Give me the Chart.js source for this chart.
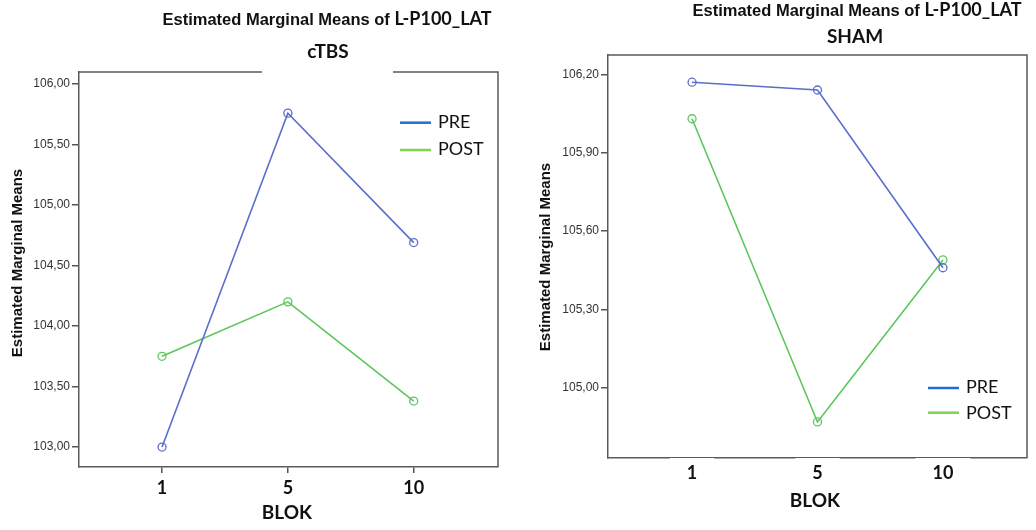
<!DOCTYPE html>
<html>
<head>
<meta charset="utf-8">
<script src="https://cdn.jsdelivr.net/npm/chart.js@4.4.1/dist/chart.umd.min.js"></script>
<style>
  html, body { margin: 0; padding: 0; background: #fff; }
  #wrap { position: relative; width: 1036px; height: 530px; overflow: hidden; background: #fff; }
  .panel { position: absolute; top: 0; width: 518px; height: 530px; }
</style>
</head>
<body>
<div id="wrap">
  <div class="panel" style="left:0"><canvas id="c1" width="518" height="530"></canvas></div>
  <div class="panel" style="left:518px"><canvas id="c2" width="518" height="530"></canvas></div>
</div>
<script>
// ---- data ----
const blokLabels = ['1', '5', '10'];
const seriesNames = ['PRE', 'POST'];
const ctbsPre  = [103.00, 105.76, 104.69];
const ctbsPost = [103.75, 104.20, 103.38];
const shamPre  = [106.17, 106.14, 105.46];
const shamPost = [106.03, 104.87, 105.49];
const ctbsYTicks = [103.0, 103.5, 104.0, 104.5, 105.0, 105.5, 106.0];
const shamYTicks = [105.0, 105.3, 105.6, 105.9, 106.2];
const mainTitleA = 'Estimated Marginal Means of ';
const mainTitleB = 'L-P100_LAT';
const yTitle = 'Estimated Marginal Means';
const xTitle = 'BLOK';

const lineColors = ['#5a6fcb', '#5cc65c'];
const legendColors = ['#1f6fd1', '#80d352'];

function fmt(v) { return v.toFixed(2).replace('.', ','); }

function decor(cfg) {
  return {
    id: 'decor',
    afterDraw(chart) {
      const ctx = chart.ctx, a = chart.chartArea;
      ctx.save();
      // top and right frame
      ctx.strokeStyle = '#5a5a5a';
      ctx.lineWidth = 1.5;
      ctx.beginPath();
      ctx.moveTo(a.left, a.top);
      ctx.lineTo(a.right, a.top);
      ctx.lineTo(a.right, a.bottom);
      ctx.stroke();
      if (cfg.gap) {
        ctx.fillStyle = '#fff';
        ctx.fillRect(cfg.gap[0], a.top - 2, cfg.gap[1] - cfg.gap[0], 4);
      }
      // main title
      ctx.fillStyle = '#111';
      ctx.textBaseline = 'alphabetic';
      ctx.textAlign = 'left';
      const fA = 'bold 16.5px "Liberation Sans", Arial, sans-serif';
      const fB = 'bold 18px Lato, sans-serif';
      ctx.font = fA;
      const w1 = ctx.measureText(mainTitleA).width;
      ctx.font = fB;
      const w2 = ctx.measureText(mainTitleB).width;
      let x0 = cfg.titleX - (w1 + w2) / 2;
      ctx.font = fA;
      ctx.fillText(mainTitleA, x0, cfg.titleY);
      ctx.font = fB;
      ctx.fillText(mainTitleB, x0 + w1, cfg.titleY);
      // subtitle
      ctx.textAlign = 'center';
      ctx.font = 'bold 19px Lato, sans-serif';
      ctx.fillText(cfg.sub, cfg.subX, cfg.subY);
      // x title
      ctx.font = 'bold 19px Lato, sans-serif';
      ctx.fillText(xTitle, cfg.xtX, cfg.xtY);
      // y title
      ctx.save();
      ctx.translate(cfg.ytX, cfg.ytY);
      ctx.rotate(-Math.PI / 2);
      ctx.textBaseline = 'middle';
      ctx.font = 'bold 15px "Liberation Sans", Arial, sans-serif';
      ctx.fillText(yTitle, 0, 0);
      ctx.restore();
      // legend
      ctx.textAlign = 'left';
      ctx.font = '18px Lato, sans-serif';
      seriesNames.forEach((n, i) => {
        const ly = cfg.legY[i];
        ctx.strokeStyle = legendColors[i];
        ctx.lineWidth = 2.5;
        ctx.beginPath();
        ctx.moveTo(cfg.legX, ly);
        ctx.lineTo(cfg.legX + 31, ly);
        ctx.stroke();
        ctx.fillStyle = '#111';
        ctx.fillText(n, cfg.legX + 38, cfg.legTY[i]);
      });
      ctx.restore();
    }
  };
}

function makeChart(id, pre, post, yTicks, ymin, ymax, xmin, xmax, lay, cfg) {
  const mk = (arr, i) => ({
    label: seriesNames[i],
    data: arr.map((y, k) => ({ x: k, y: y })),
    borderColor: lineColors[i],
    borderWidth: 1.6,
    pointRadius: 4,
    pointHoverRadius: 4,
    pointBorderWidth: 1.3,
    pointBorderColor: lineColors[i],
    pointBackgroundColor: 'rgba(255,255,255,0)',
    tension: 0,
    fill: false,
    clip: false
  });
  return new Chart(document.getElementById(id), {
    type: 'line',
    data: { datasets: [mk(pre, 0), mk(post, 1)] },
    options: {
      responsive: false,
      animation: false,
      devicePixelRatio: 1,
      layout: { padding: { top: lay.top, right: lay.right, left: 0, bottom: 0 } },
      plugins: { legend: { display: false }, tooltip: { enabled: false }, title: { display: false } },
      scales: {
        x: {
          type: 'linear',
          min: xmin, max: xmax,
          afterBuildTicks: s => { s.ticks = blokLabels.map((_, k) => ({ value: k })); },
          afterFit: s => { s.height = lay.xh; },
          ticks: {
            callback: v => blokLabels[v],
            autoSkip: false, maxRotation: 0,
            color: '#111',
            font: { family: 'Lato', size: 18, weight: 'bold' },
            padding: lay.xpad,
            showLabelBackdrop: !!lay.backdrop,
            backdropColor: '#fff',
            backdropPadding: lay.backdrop || 0
          },
          grid: { drawOnChartArea: false, drawTicks: lay.xticks, tickLength: 6, color: '#555', lineWidth: 1.5 },
          border: { display: true, color: '#5a5a5a', width: 1.5 }
        },
        y: {
          type: 'linear',
          min: ymin, max: ymax,
          afterBuildTicks: s => { s.ticks = yTicks.map(v => ({ value: v })); },
          afterFit: s => { s.width = lay.yw; },
          ticks: {
            callback: v => fmt(v),
            color: '#333',
            font: { family: 'Liberation Sans', size: 12 },
            padding: 2
          },
          grid: { drawOnChartArea: false, drawTicks: true, tickLength: 7, color: '#555', lineWidth: 1.5 },
          border: { display: true, color: '#5a5a5a', width: 1.5 }
        }
      }
    },
    plugins: [decor(cfg)]
  });
}

makeChart('c1', ctbsPre, ctbsPost, ctbsYTicks, 102.835, 106.10, -0.66, 2.67,
  { top: 72, right: 20, xh: 63, yw: 79, xpad: 4, xticks: true },
  { gap: [262, 393], titleX: 327, titleY: 25, sub: 'cTBS', subX: 328, subY: 58,
    xtX: 287, xtY: 519, ytX: 18, ytY: 263, legX: 400, legY: [122.7, 150], legTY: [128, 155] });

makeChart('c2', shamPre, shamPost, shamYTicks, 104.732, 106.274, -0.67, 2.67,
  { top: 55, right: 9, xh: 72, yw: 90, xpad: 4, xticks: false,
    backdrop: { top: 7, bottom: 2, left: 17, right: 17 } },
  { gap: null, titleX: 339, titleY: 16, sub: 'SHAM', subX: 337, subY: 43,
    xtX: 297, xtY: 507, ytX: 28, ytY: 257, legX: 410, legY: [388, 412.7], legTY: [393, 418.5] });
</script>
</body>
</html>
